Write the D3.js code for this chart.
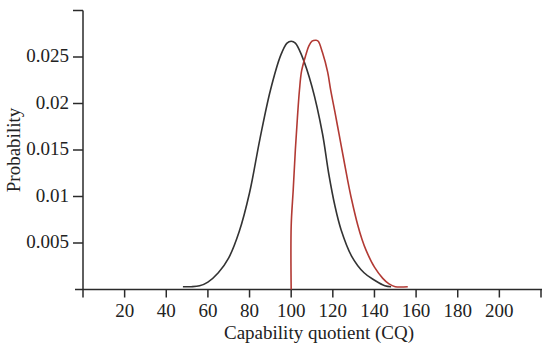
<!DOCTYPE html>
<html>
<head>
<meta charset="utf-8">
<script src="https://cdn.jsdelivr.net/npm/d3@7"></script>
<style>
  html, body { margin: 0; padding: 0; background: #fff; }
  svg { display: block; }
  text { font-family: "Liberation Serif", "Times New Roman", serif; fill: #222; }
</style>
</head>
<body>
<div id="chart"></div>
<script>
// general population (black)
const popCQ   = [48, 52, 56, 60, 65, 70, 75, 80, 85, 90, 95, 98, 100, 102, 105, 110, 115, 118, 121, 124, 129, 135, 140, 145, 148];
const popProb = [0.0003, 0.0003, 0.0004, 0.0008, 0.0018, 0.0034, 0.0062, 0.0104, 0.0162, 0.0214, 0.0252, 0.0265, 0.0267, 0.0265, 0.0252, 0.0218, 0.0168, 0.0125, 0.0090, 0.0064, 0.0036, 0.0018, 0.0010, 0.0004, 0.0003];

// selected group (red), cut off at CQ 100
const selCQ   = [100, 100, 101, 102, 103, 104, 105, 107, 108.5, 110, 112, 113, 115, 117.5, 119, 121, 123, 125, 127, 129, 132, 134, 136, 140, 144, 147, 150, 156];
const selProb = [0, 0.0068, 0.0108, 0.0150, 0.0185, 0.0215, 0.0235, 0.0252, 0.0262, 0.0267, 0.0268, 0.0267, 0.0255, 0.0234, 0.0214, 0.0191, 0.0167, 0.0143, 0.0119, 0.0097, 0.0069, 0.0054, 0.0042, 0.0024, 0.0012, 0.0006, 0.0003, 0.0003];

const xTicks = [20, 40, 60, 80, 100, 120, 140, 160, 180, 200, 220];
const yTicks = [0.005, 0.01, 0.015, 0.02, 0.025, 0.03];

(function initChart() {
  const width = 542, height = 350;
  const svg = d3.select('#chart').append('svg')
    .attr('width', width)
    .attr('height', height);

  const x = d3.scaleLinear().domain([0, 220]).range([83, 541]);
  const y = d3.scaleLinear().domain([0, 0.03]).range([289.5, 10.5]);

  const axisColor = '#2a2a2a';
  const g = svg.append('g');

  // axes lines (they run a bit past each other, like the original)
  g.append('line')
    .attr('x1', 75).attr('x2', width)
    .attr('y1', y(0)).attr('y2', y(0))
    .attr('stroke', axisColor).attr('stroke-width', 1.5);
  g.append('line')
    .attr('x1', x(0)).attr('x2', x(0))
    .attr('y1', y(0.03)).attr('y2', y(0) + 8)
    .attr('stroke', axisColor).attr('stroke-width', 1.5);

  // x ticks + labels
  const xt = g.append('g').selectAll('g').data(xTicks).join('g')
    .attr('transform', d => `translate(${x(d)},${y(0)})`);
  xt.append('line').attr('y2', 8).attr('stroke', axisColor).attr('stroke-width', 1.5);
  xt.filter(d => d <= 200).append('text')
    .attr('y', 27)
    .attr('text-anchor', 'middle')
    .attr('font-size', 19)
    .text(d => d);

  // y ticks + labels
  const yt = g.append('g').selectAll('g').data(yTicks).join('g')
    .attr('transform', d => `translate(${x(0)},${y(d)})`);
  yt.append('line').attr('x2', -10).attr('stroke', axisColor).attr('stroke-width', 1.5);
  yt.filter(d => d < 0.03).append('text')
    .attr('x', -14)
    .attr('y', 5)
    .attr('text-anchor', 'end')
    .attr('font-size', 19)
    .text(d => d3.format('')(+d.toFixed(3)));

  // axis titles
  svg.append('text')
    .attr('x', 319).attr('y', 339)
    .attr('text-anchor', 'middle')
    .attr('font-size', 19)
    .text('Capability quotient (CQ)');
  svg.append('text')
    .attr('transform', 'translate(20,150) rotate(-90)')
    .attr('text-anchor', 'middle')
    .attr('font-size', 19)
    .text('Probability');

  // curves
  const line = d3.line()
    .x(d => x(d[0]))
    .y(d => y(d[1]))
    .curve(d3.curveCatmullRom.alpha(0.5));

  g.append('path')
    .datum(d3.zip(popCQ, popProb))
    .attr('d', line)
    .attr('fill', 'none')
    .attr('stroke', '#333')
    .attr('stroke-width', 1.6);

  g.append('path')
    .datum(d3.zip(selCQ, selProb))
    .attr('d', line)
    .attr('fill', 'none')
    .attr('stroke', '#b23a34')
    .attr('stroke-width', 1.6);
})();
</script>
</body>
</html>
